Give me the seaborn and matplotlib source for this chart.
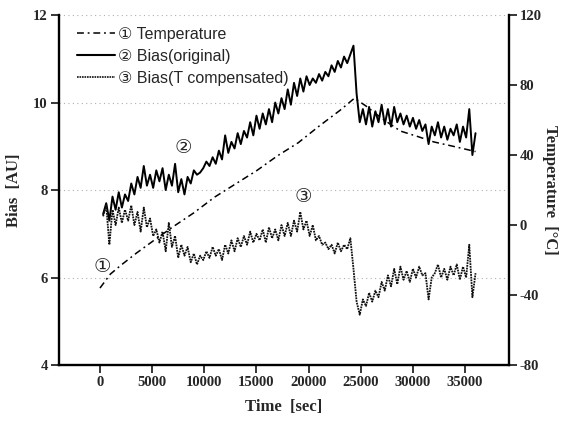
import numpy as np
import pandas as pd
import matplotlib
matplotlib.use("Agg")
import matplotlib.pyplot as plt
import seaborn as sns
from matplotlib.lines import Line2D

# ---------------- data ----------------
bias_time = [300, 600, 900, 1200, 1500, 1800, 2100, 2400, 2700, 3000,
             3300, 3600, 3900, 4200, 4500, 4800, 5100, 5400, 5700, 6000,
             6300, 6600, 6900, 7200, 7500, 7800, 8100, 8400, 8700, 9000,
             9300, 9600, 9900, 10200, 10500, 10800, 11100, 11400, 11700, 12000,
             12300, 12600, 12900, 13200, 13500, 13800, 14100, 14400, 14700, 15000,
             15300, 15600, 15900, 16200, 16500, 16800, 17100, 17400, 17700, 18000,
             18300, 18600, 18900, 19200, 19500, 19800, 20100, 20400, 20700, 21000,
             21300, 21600, 21900, 22200, 22500, 22800, 23100, 23400, 23700, 24000,
             24300, 24600, 24900, 25200, 25500, 25800, 26100, 26400, 26700, 27000,
             27300, 27600, 27900, 28200, 28500, 28800, 29100, 29400, 29700, 30000,
             30300, 30600, 30900, 31200, 31500, 31800, 32100, 32400, 32700, 33000,
             33300, 33600, 33900, 34200, 34500, 34800, 35100, 35400, 35700, 36000]

bias_original = [7.45, 7.70, 7.30, 7.85, 7.55, 7.95, 7.60, 7.90, 7.75, 8.15,
                 7.90, 8.30, 8.05, 8.55, 8.10, 8.35, 8.05, 8.45, 8.20, 8.50,
                 8.00, 8.35, 8.10, 8.60, 7.95, 8.25, 7.90, 8.30, 8.15, 8.45,
                 8.35, 8.40, 8.50, 8.65, 8.55, 8.75, 8.60, 8.90, 8.70, 9.25,
                 8.85, 9.10, 8.95, 9.30, 9.05, 9.35, 9.20, 9.55, 9.25, 9.70,
                 9.40, 9.75, 9.50, 9.85, 9.55, 10.00, 9.75, 10.10, 9.85, 10.30,
                 9.95, 10.45, 10.15, 10.55, 10.25, 10.60, 10.40, 10.55, 10.45, 10.65,
                 10.50, 10.70, 10.60, 10.85, 10.70, 10.95, 10.80, 11.05, 10.90, 11.10,
                 11.30, 10.20, 9.55, 9.85, 9.50, 9.90, 9.45, 9.80, 9.55, 9.95,
                 9.50, 9.85, 9.45, 9.90, 9.55, 9.75, 9.50, 9.70, 9.45, 9.65,
                 9.40, 9.60, 9.35, 9.50, 9.05, 9.45, 9.25, 9.55, 9.20, 9.45,
                 9.15, 9.40, 9.25, 9.50, 9.10, 9.45, 9.20, 9.85, 8.80, 9.30]

bias_compensated = [7.40, 7.65, 6.75, 7.55, 7.20, 7.60, 7.25, 7.55, 7.30, 7.65,
                    7.20, 7.50, 7.05, 7.60, 7.15, 7.35, 6.95, 7.10, 6.80, 7.05,
                    6.60, 7.25, 6.70, 6.95, 6.45, 6.75, 6.50, 6.70, 6.35, 6.55,
                    6.30, 6.50, 6.40, 6.60, 6.45, 6.70, 6.50, 6.65, 6.40, 6.75,
                    6.55, 6.85, 6.60, 6.90, 6.70, 6.95, 6.75, 7.05, 6.80, 7.00,
                    6.85, 7.10, 6.80, 7.15, 6.90, 7.10, 6.85, 7.20, 6.95, 7.25,
                    6.95, 7.30, 7.05, 7.50, 7.10, 7.30, 6.95, 7.20, 6.85, 6.95,
                    6.75, 6.80, 6.65, 6.75, 6.55, 6.80, 6.60, 6.75, 6.65, 6.90,
                    6.20, 5.45, 5.15, 5.50, 5.35, 5.65, 5.45, 5.70, 5.55, 5.90,
                    5.70, 6.05, 5.80, 6.20, 5.85, 6.25, 5.95, 6.15, 5.90, 6.20,
                    6.00, 6.25, 6.05, 6.10, 5.50, 6.00, 6.10, 6.30, 6.00, 6.20,
                    5.95, 6.25, 6.05, 6.30, 5.95, 6.25, 6.00, 6.75, 5.55, 6.10]

temp_time = [0, 1000, 2000, 3500, 5000, 7000, 9000, 11000, 13000, 15000,
             17000, 19000, 21000, 23000, 24400, 25500, 27000, 28800, 30500,
             32000, 34000, 36000]
temperature = [-36, -28, -23, -16, -9.5, -1, 7, 16, 23.5, 31,
               39.5, 47, 56.5, 65.5, 72.5, 68, 61, 53.7, 50.5,
               47.5, 44.8, 42]

x_ticks = [0, 5000, 10000, 15000, 20000, 25000, 30000, 35000]
bias_ticks = [4, 6, 8, 10, 12]
temp_ticks = [-80, -40, 0, 40, 80, 120]

labels = ["\u2460 Temperature", "\u2461 Bias(original)", "\u2462 Bias(T compensated)"]
marks = ["\u2460", "\u2461", "\u2462"]
mark_x = [190, 7960, 19460]
mark_y = [6.22, 8.94, 7.83]

# ---------------- style ----------------
sns.set_style("ticks")
plt.rcParams["font.family"] = ["Liberation Serif", "DejaVu Serif"]
sans = ["Liberation Sans", "DejaVu Sans", "Noto Sans CJK JP"]

fig = plt.figure(figsize=(5.67, 4.29), dpi=100)
ax = fig.add_axes([0.104, 0.149, 0.793, 0.816])
ax2 = ax.twinx()

df_orig = pd.DataFrame({"t": bias_time, "b": bias_original})
df_comp = pd.DataFrame({"t": bias_time, "b": bias_compensated})
df_temp = pd.DataFrame({"t": temp_time, "T": temperature})

tstyle = (0, (4.5, 2.5, 1.2, 2.5))
cstyle = (0, (1.0, 0.5))

sns.lineplot(data=df_orig, x="t", y="b", ax=ax, color="black", lw=1.4,
             estimator=None, sort=False)
sns.lineplot(data=df_comp, x="t", y="b", ax=ax, color="#111111", lw=1.3,
             linestyle=cstyle, estimator=None, sort=False)
sns.lineplot(data=df_temp, x="t", y="T", ax=ax2, color="black", lw=1.1,
             linestyle=tstyle, estimator=None, sort=False)

ax.set_xlim(-3930, 39170)
ax.set_ylim(4, 12)
ax2.set_ylim(-80, 120)
ax.set_xticks(x_ticks)
ax.set_yticks(bias_ticks)
ax2.set_yticks(temp_ticks)

tickfont = dict(family=["Liberation Serif", "DejaVu Serif"], weight="bold", size=10.5)
ax.set_xticklabels([str(v) for v in x_ticks], **tickfont)
ax.set_yticklabels([str(v) for v in bias_ticks], **tickfont)
ax2.set_yticklabels([str(v) for v in temp_ticks], **tickfont)

for a in (ax, ax2):
    a.tick_params(direction="out", length=6, width=1.3, pad=2)
    for s in a.spines.values():
        s.set_linewidth(1.7)
        s.set_color("black")
    a.spines["top"].set_visible(False)
ax.spines["right"].set_visible(False)
ax2.spines["left"].set_visible(False)
ax2.spines["bottom"].set_visible(False)

ax.yaxis.grid(True, linestyle=(0, (1, 3)), color="#b0b0b0", lw=0.8)
ax.set_axisbelow(True)

ax.set_xlabel("Time  [sec]", fontsize=12, fontweight="bold", labelpad=7)
ax.set_ylabel("Bias  [AU]", fontsize=12, fontweight="bold", labelpad=8)
ax2.set_ylabel("Temperature  [\u00b0C]", fontsize=12, fontweight="bold",
               rotation=270, labelpad=12)

# legend
handles = [Line2D([], [], color="black", lw=1.1, linestyle=tstyle),
           Line2D([], [], color="black", lw=1.5),
           Line2D([], [], color="#111111", lw=1.2, linestyle=cstyle)]
leg = ax.legend(handles, labels, loc="upper left", bbox_to_anchor=(0.025, 0.985),
                frameon=False, handlelength=2.4, handletextpad=0.2,
                labelspacing=0.45, borderaxespad=0.0,
                prop=dict(family=sans, size=11.5))

for m, xx, yy in zip(marks, mark_x, mark_y):
    ax.text(xx, yy, m, family=sans, fontsize=14, ha="center", va="center")

fig.savefig("out.png", dpi=100)
